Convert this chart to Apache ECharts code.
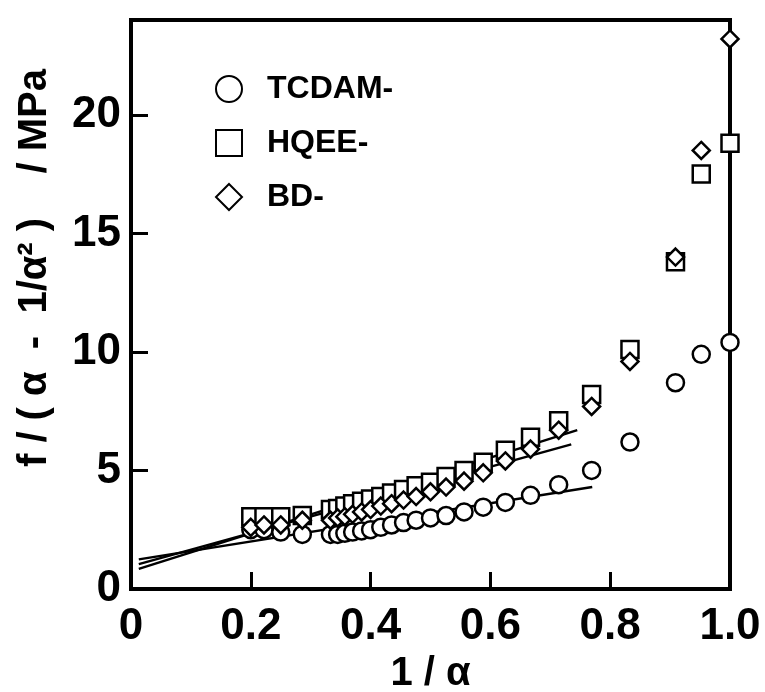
<!DOCTYPE html>
<html><head><meta charset="utf-8">
<script src="https://cdn.jsdelivr.net/npm/echarts@6/dist/echarts.min.js"></script>
<style>html,body{margin:0;padding:0;background:#fff}#c{width:765px;height:692px}</style>
</head><body><div id="c"></div>
<script>
var xVals = [0.2, 0.222, 0.25, 0.286, 0.333, 0.345, 0.357, 0.370, 0.385, 0.4, 0.417, 0.435, 0.455, 0.476, 0.5, 0.526, 0.556, 0.588, 0.625, 0.667, 0.714, 0.769, 0.833, 0.909, 0.952, 1.0];
var tcdam = [2.5, 2.5, 2.4, 2.3, 2.3, 2.3, 2.35, 2.4, 2.45, 2.5, 2.6, 2.7, 2.8, 2.9, 3.0, 3.1, 3.25, 3.45, 3.65, 3.95, 4.4, 5.0, 6.2, 8.7, 9.9, 10.4];
var hqee = [3.05, 3.05, 3.05, 3.1, 3.35, 3.4, 3.5, 3.6, 3.7, 3.8, 3.9, 4.05, 4.2, 4.35, 4.5, 4.75, 5.0, 5.35, 5.85, 6.4, 7.1, 8.2, 10.1, 13.8, 17.5, 18.8];
var bd = [2.6, 2.7, 2.7, 2.9, 2.9, 3.0, 3.05, 3.15, 3.25, 3.35, 3.5, 3.6, 3.75, 3.9, 4.1, 4.3, 4.55, 4.9, 5.4, 5.9, 6.7, 7.7, 9.6, 14.0, 18.5, 23.2];
var fitTcdam = [[0.013, 1.25], [0.77, 4.3]];
var fitHqee = [[0.013, 0.85], [0.745, 6.7]];
var fitBd = [[0.013, 1.05], [0.735, 6.1]];
var seriesNames = ['TCDAM-', 'HQEE-', 'BD-'];
var xTicks = [0, 0.2, 0.4, 0.6, 0.8, 1.0];
var yTicks = [0, 5, 10, 15, 20];
var yTitle = 'f / ( α  -  1/α² )    / MPa';

function pairs(ys){ return xVals.map(function(x,i){ return [x, ys[i]]; }); }
var font = '"Liberation Sans", Arial, sans-serif';
var chart = echarts.init(document.getElementById('c'));
function scat(name, sym, ys){
  return {name:name, type:'scatter', data:pairs(ys), symbol:sym, symbolSize:17,
    itemStyle:{color:'#fff', borderColor:'#000', borderWidth:2.5, opacity:1}, z:3};
}
function fit(d){
  return {type:'line', data:d, symbol:'none', silent:true,
    lineStyle:{color:'#000', width:2.5}, z:2};
}
chart.setOption({
  animation:false,
  backgroundColor:'#fff',
  grid:{left:131, right:35, top:20, bottom:103, outerBoundsMode:'none', containLabel:false,
    show:true, borderColor:'#000', borderWidth:4, backgroundColor:'transparent'},
  legend:{data:seriesNames, orient:'vertical', left:210, top:68, itemWidth:26, itemHeight:26, itemGap:22,
    textStyle:{fontFamily:font, fontWeight:'bold', fontSize:32, color:'#000', padding:[0,0,0,20]}},
  graphic:[{type:'text', x:35, y:268, rotation:Math.PI/2,
    style:{text:yTitle, fontFamily:font, fontWeight:'bold', fontSize:40, fill:'#000', align:'center', verticalAlign:'middle'}}],
  xAxis:{type:'value', min:0, max:1.0, interval:0.2,
    name:'1 / α', nameLocation:'middle', nameGap:60,
    nameTextStyle:{fontFamily:font, fontWeight:'bold', fontSize:40, color:'#000'},
    axisLine:{show:true, lineStyle:{color:'#000', width:4}},
    axisTick:{show:true, inside:true, length:17, lineStyle:{color:'#000', width:3}, customValues:[0.2,0.4,0.6,0.8]},
    axisLabel:{fontFamily:font, fontWeight:'bold', fontSize:44, color:'#000', margin:16, customValues:xTicks,
      formatter:function(v){ return v===0 ? '0' : v.toFixed(1); }},
    splitLine:{show:false}},
  yAxis:{type:'value', min:0, max:24, interval:5,
    axisLine:{show:true, lineStyle:{color:'#000', width:4}},
    axisTick:{show:true, inside:true, length:17, lineStyle:{color:'#000', width:3}, customValues:[5,10,15,20]},
    axisLabel:{fontFamily:font, fontWeight:'bold', fontSize:44, color:'#000', margin:10, customValues:yTicks},
    splitLine:{show:false}},
  series:[
    fit(fitTcdam), fit(fitHqee), fit(fitBd),
    scat(seriesNames[0], 'circle', tcdam),
    scat(seriesNames[1], 'rect', hqee),
    scat(seriesNames[2], 'diamond', bd)
  ]
});
</script></body></html>
